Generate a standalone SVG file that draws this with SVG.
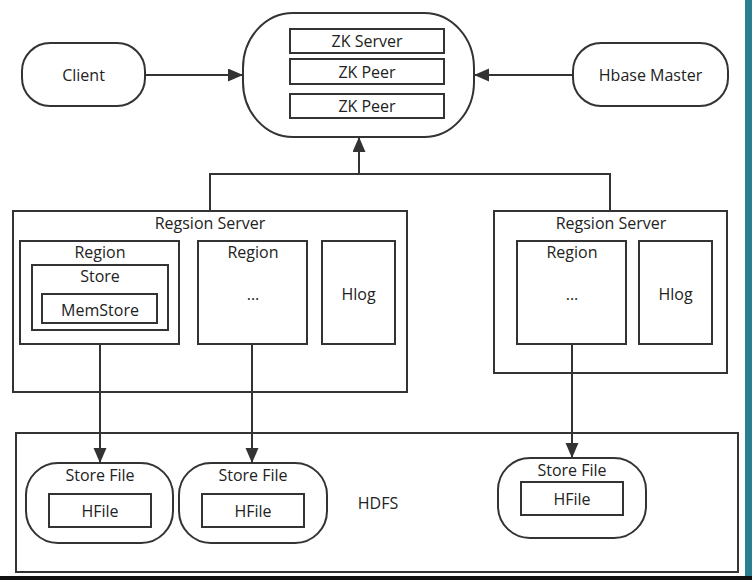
<svg xmlns="http://www.w3.org/2000/svg" width="752" height="580" viewBox="0 0 752 580">
  <defs>
    <marker id="arr" markerUnits="userSpaceOnUse" markerWidth="16" markerHeight="14" refX="15" refY="6.5" orient="auto">
      <path d="M0,0 L15,6.5 L0,13 Z" fill="#333"/>
    </marker>
    <style>
      .s { fill: #fff; stroke: #333; stroke-width: 2; }
      .t { font-family: "Open Sans", "Noto Sans", sans-serif; font-size: 16px; fill: #222; text-anchor: middle; dominant-baseline: central; }
      .c { fill: none; stroke: #333; stroke-width: 2; }
    </style>
  </defs>
  <rect x="0" y="0" width="752" height="580" fill="#fff"/>
  <rect x="745" y="0" width="7" height="580" fill="#2a7f8e"/>
  <rect x="0" y="576" width="752" height="4" fill="#111"/>

  <g id="zk">
    <rect class="s" x="243" y="13" width="231" height="124" rx="50" ry="55"/>
    <rect class="s" x="290" y="29" width="154" height="24"/>
    <text class="t" x="367" y="41">ZK Server</text>
    <rect class="s" x="290" y="59" width="154" height="25"/>
    <text class="t" x="367" y="71.5">ZK Peer</text>
    <rect class="s" x="290" y="94" width="154" height="24"/>
    <text class="t" x="367" y="106">ZK Peer</text>
  </g>

  <g id="client">
    <rect class="s" x="22" y="43" width="123" height="63" rx="28" ry="28"/>
    <text class="t" x="83.5" y="75">Client</text>
  </g>

  <g id="hbase-master">
    <rect class="s" x="573" y="43" width="155" height="63" rx="28" ry="28"/>
    <text class="t" x="650.5" y="75">Hbase Master</text>
  </g>

  <g id="region-server-1">
    <rect class="s" x="13" y="211" width="394" height="181"/>
    <text class="t" x="210" y="223">Regsion Server</text>
  </g>
  <g id="region-1">
    <rect class="s" x="20" y="241" width="159" height="103"/>
    <text class="t" x="100" y="252">Region</text>
  </g>
  <g id="store">
    <rect class="s" x="32" y="265" width="136" height="65"/>
    <text class="t" x="100" y="276">Store</text>
  </g>
  <g id="memstore">
    <rect class="s" x="42" y="294" width="115" height="29"/>
    <text class="t" x="100" y="310">MemStore</text>
  </g>
  <g id="region-2">
    <rect class="s" x="198" y="241" width="109" height="103"/>
    <text class="t" x="253" y="252">Region</text>
    <text class="t" x="253" y="294">...</text>
  </g>
  <g id="hlog-1">
    <rect class="s" x="322" y="241" width="73" height="103"/>
    <text class="t" x="358.5" y="294">Hlog</text>
  </g>

  <g id="region-server-2">
    <rect class="s" x="494" y="211" width="233" height="162"/>
    <text class="t" x="611" y="223">Regsion Server</text>
  </g>
  <g id="region-3">
    <rect class="s" x="517" y="241" width="109" height="103"/>
    <text class="t" x="572" y="252">Region</text>
    <text class="t" x="572" y="294">...</text>
  </g>
  <g id="hlog-2">
    <rect class="s" x="639" y="241" width="73" height="103"/>
    <text class="t" x="675.5" y="294">Hlog</text>
  </g>

  <g id="hdfs">
    <rect class="s" x="16" y="433" width="722" height="139"/>
    <text class="t" x="378" y="503">HDFS</text>
  </g>
  <g id="store-file-1">
    <rect class="s" x="26" y="463" width="147" height="80" rx="32" ry="32"/>
    <text class="t" x="100" y="475">Store File</text>
    <rect class="s" x="49" y="494" width="102" height="33"/>
    <text class="t" x="100" y="510.5">HFile</text>
  </g>
  <g id="store-file-2">
    <rect class="s" x="179" y="463" width="148" height="80" rx="32" ry="32"/>
    <text class="t" x="253" y="475">Store File</text>
    <rect class="s" x="202" y="494" width="102" height="33"/>
    <text class="t" x="253" y="510.5">HFile</text>
  </g>
  <g id="store-file-3">
    <rect class="s" x="498" y="458" width="148" height="80" rx="32" ry="32"/>
    <text class="t" x="572" y="470">Store File</text>
    <rect class="s" x="521" y="482" width="102" height="33"/>
    <text class="t" x="572" y="498.5">HFile</text>
  </g>

  <g id="connectors">
    <line class="c" x1="145" y1="75" x2="243" y2="75" marker-end="url(#arr)"/>
    <line class="c" x1="573" y1="75" x2="474" y2="75" marker-end="url(#arr)"/>
    <polyline class="c" points="210,211 210,174 610,174 610,211"/>
    <line class="c" x1="359" y1="174" x2="359" y2="137" marker-end="url(#arr)"/>
    <line class="c" x1="100" y1="344" x2="100" y2="463" marker-end="url(#arr)"/>
    <line class="c" x1="252" y1="344" x2="252" y2="463" marker-end="url(#arr)"/>
    <line class="c" x1="572" y1="344" x2="572" y2="458" marker-end="url(#arr)"/>
  </g>
</svg>
